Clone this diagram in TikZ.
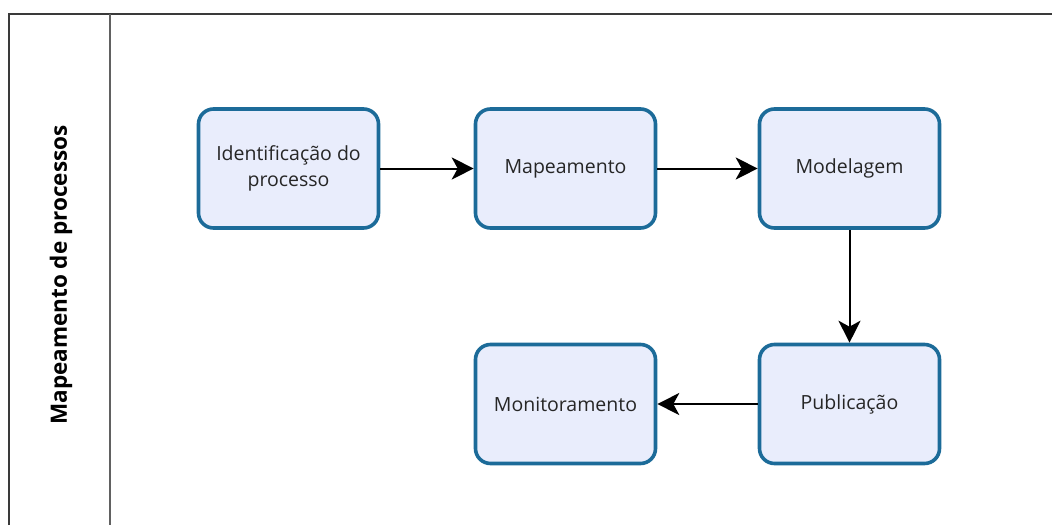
\documentclass[tikz,border=0pt]{standalone}
\usepackage{fontspec}
\setmainfont{Open Sans}
\usetikzlibrary{arrows.meta}
\definecolor{boxfill}{HTML}{E9EDFC}
\definecolor{boxline}{HTML}{1C6B99}
\definecolor{frameline}{HTML}{3A3A3A}
\begin{document}
\begin{tikzpicture}[x=1pt,y=-1pt,
  procbox/.style={draw=boxline, line width=3.6pt, fill=boxfill, rounded corners=15pt,
    minimum width=180pt, minimum height=119pt, align=center, font=\fontsize{19.5}{26}\selectfont, text=black!85},
  flow/.style={line width=2pt, -{Stealth[length=22pt,width=22pt,inset=6pt]}}]
\useasboundingbox (0,0) rectangle (1052,525);
\draw[frameline, line width=2pt] (9,525) -- (9,14) -- (1052,14);
\draw[frameline!80, line width=2pt] (110,14) -- (110,525);
\node[rotate=90, font=\fontsize{22.5}{26}\selectfont\bfseries] (lane) at (61,275) {Mapeamento de processos};
\node[procbox] (ident) at (288.5,168.5) {Identificação do\\processo};
\node[procbox] (mapa) at (565.5,168.5) {Mapeamento};
\node[procbox] (model) at (849.5,168.5) {Modelagem};
\node[procbox] (monit) at (565.5,404) {Monitoramento};
\node[procbox] (publ) at (849.5,404) {Publicação};
\draw[flow] (ident) -- (mapa);
\draw[flow] (mapa) -- (model);
\draw[flow] (model) -- (publ);
\draw[flow] (publ) -- (monit);
\end{tikzpicture}
\end{document}
